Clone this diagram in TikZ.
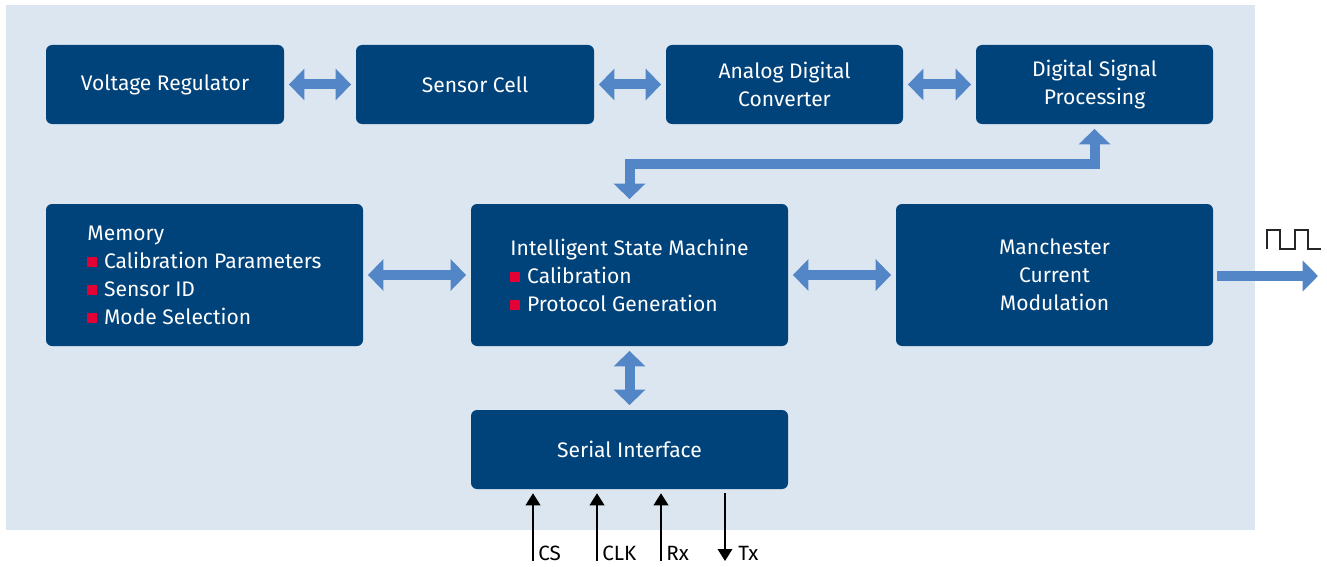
\documentclass[tikz,border=0pt]{standalone}
\usepackage{fontspec}
\setmainfont{Fira Sans}
\usetikzlibrary{arrows.meta,calc}
\definecolor{boxblue}{RGB}{0,66,122}
\definecolor{bgblue}{RGB}{220,230,241}
\definecolor{arrowblue}{RGB}{83,134,198}
\definecolor{bulletred}{RGB}{227,0,52}
\newcommand{\bul}{\textcolor{bulletred}{\raisebox{0.8pt}{\rule{7.5pt}{7.5pt}}}\hspace{5pt}}
\tikzset{
  blk/.style={draw=none, fill=boxblue, rounded corners=4.5pt, text=white,
    font=\fontsize{15.8}{21}\selectfont, align=center, inner sep=0pt},
  small/.style={blk, minimum width=178.5pt, minimum height=59.25pt},
  large/.style={blk, minimum width=237.75pt, minimum height=106.5pt},
  dbl/.style={draw=arrowblue, line width=7.5pt, line join=miter,
    {Triangle[width=23pt,length=11.5pt]}-{Triangle[width=23pt,length=11.5pt]},
    shorten <=3.5pt, shorten >=3.5pt},
  outarrow/.style={draw=arrowblue, line width=7.5pt,
    -{Triangle[width=22.5pt,length=11.5pt]}, shorten <=3pt},
  sig/.style={draw=black, line width=1.1pt, -{Triangle[width=11pt,length=9pt]}},
  siglabel/.style={anchor=base west, inner sep=0pt, font=\fontsize{15.5}{17}\selectfont},
}
\begin{document}
\begin{tikzpicture}[x=0.75pt,y=-0.75pt]
\useasboundingbox (0,0) rectangle (1327,567);
\fill[bgblue] (6,5) rectangle (1255,530);

\node[small] (vr)  at (165,84.5)   {Voltage Regulator};
\node[small] (sc)  at (475,84.5)   {Sensor Cell};
\node[small, minimum width=177.75pt] (adc) at (784.5,84.5) {Analog Digital\\Converter};
\node[small, minimum width=177.75pt] (dsp) at (1094.5,84.5) {Digital Signal\\Processing};

\node[large, align=left] (mem) at (204.5,275) {Memory\\\bul Calibration Parameters\\\bul Sensor ID\\\bul Mode Selection};
\node[large, align=left] (ism) at (629.5,275) {Intelligent State Machine\\\bul Calibration\\\bul Protocol Generation};
\node[large] (man) at (1054.5,275) {Manchester\\Current\\Modulation};

\node[blk, minimum width=237.75pt, minimum height=59.25pt] (ser) at (629.5,449.5) {Serial Interface};

% horizontal double arrows
\draw[dbl] (vr) -- (sc);
\draw[dbl] (sc) -- (adc);
\draw[dbl] (adc) -- (dsp);
\draw[dbl] (mem) -- (ism);
\draw[dbl] (ism) -- (man);
\draw[dbl] (ism) -- (ser);

\coordinate (bend) at (0,164);
\draw[dbl] (dsp.south) |- (ism.north |- bend) -- (ism.north);

% output
\coordinate (outp) at (1318,276);
\draw[outarrow] (man.east |- outp) -- (outp);
\draw[line width=1.1pt, draw=black!85, line join=miter]
  (1267,249) -- (1267,230) -- (1280,230) -- (1280,249) -- (1295,249)
  -- (1295,230) -- (1308,230) -- (1308,249) -- (1321,249);

% serial signals
\coordinate (cs)  at (533,561);
\coordinate (clk) at (597,561);
\coordinate (rx)  at (661,561);
\coordinate (tx)  at (725,561);
\draw[sig, shorten >=3pt] (cs) -- (cs |- ser.south);
\draw[sig, shorten >=3pt] (clk) -- (clk |- ser.south);
\draw[sig, shorten >=3pt] (rx) -- (rx |- ser.south);
\draw[sig, shorten <=3pt] (tx |- ser.south) -- (tx);

\node[siglabel] (lcs)  at (538,560) {CS};
\node[siglabel] (lclk) at (602,560) {CLK};
\node[siglabel] (lrx)  at (666,560) {Rx};
\node[siglabel] (ltx)  at (738,560) {Tx};
\end{tikzpicture}
\end{document}
